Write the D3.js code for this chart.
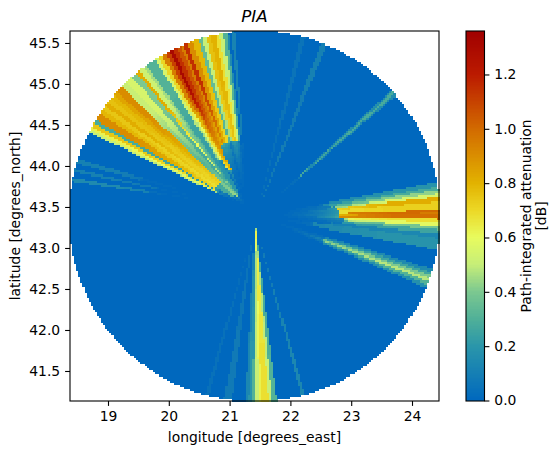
<!DOCTYPE html>
<html><head><meta charset="utf-8">
<script src="https://cdn.jsdelivr.net/npm/d3@7"></script>
<style>html,body{margin:0;padding:0;background:#fff}svg{display:block}text{font-family:"DejaVu Sans",sans-serif}</style>
</head><body><svg id="c" width="560" height="454"></svg>
<script>
const lonTicks=[19,20,21,22,23,24];
const latTicks=[41.5,42,42.5,43,43.5,44,44.5,45,45.5];
const cbTicks=[0,0.2,0.4,0.6,0.8,1.0,1.2];
const colorValues=[0,0.2,0.3,0.4,0.5,0.6,0.7,0.8,1.0,1.2,1.36];
const colorStops=["#0068be","#2a96aa","#50b098","#7cc890","#c6ee78","#e8fb5e","#ecd826","#e2b200","#d26a00","#bb1a00","#a00000"];
const radarCenter=[21.41,43.39], radarRadius=[3.035,2.25];

// azimuth sectors: bearings (deg), outer value, value at onset, onset range (fraction of radius)
const nwOrigin=[21.303,43.488];
const nwAz=[295.5,296.5,297.5,298.8,300,302.5,304,305.5,307,308.5,310,311.5,313.8,316,318.5,320.5,321.7,323.5,324.5,328,329.2,330.5,332,333.2,334.5,336,337.5,338.4,339.8,341.7,343.5,344.8,346.2,347.7,349.5,350.7,352,353,353.6,354.5,355.7];
const nwFar=[.5,.62,.75,.28,.9,.78,.74,.82,.76,.78,.84,.9,.5,.55,.4,.82,.52,.45,.3,.55,.7,.95,1.1,1.3,1.15,1.05,.95,1.15,.9,.78,.35,.5,.76,.8,.68,.5,.3,.15,0,.12];
const nwStart=[.45,.55,.65,.2,.7,.68,.68,.7,.7,.7,.72,.72,.22,.25,.2,.4,.25,.22,.18,.4,.5,.6,.65,.7,.8,.85,.8,.9,.8,.7,.3,.45,.7,.75,.65,.5,.3,.15,0,.1];
const nwOnset=[.19,.19,.19,.19,.205,.205,.205,.205,.205,.205,.205,.205,.17,.17,.17,.17,.17,.17,.17,.3,.3,.3,.23,.23,.23,.37,.37,.37,.37,.37,.37,.37,.37,.37,.37,.37,.37,.37,.37,.37];

// pale streaks that converge on the origin of the north-west fan
const nwCoreAz=[303,312,318,322,330];
const nwCoreFar=[.1,.1,.1,.1];
const nwCoreStart=[.3,.45,.35,.2];
const nwCoreOnset=[.1,.08,.08,.1];

const wAz=[278.6,279.8,281.7,282.7,284.5,286];
const wFar=[.15,0,.1,0,.1];
const wStart=[.1,0,.07,0,.07];
const wOnset=[.54,.5,.5,.5,.6];

const eOrigin=[21.467,43.39];
const eAz=[79.2,80.8,81.8,83,84,85.5,88,88.9,89.4,91,92,93.3,94.3,95.5,97,100.8];
const eFar=[.18,.28,.42,.55,.82,.72,1.0,.95,.98,.68,.58,.38,.25,.13,.19];
const eStart=[.15,.22,.3,.42,.72,.68,.92,.8,.9,.6,.45,.3,.2,.1,.13];
const eOnset=[.36,.36,.4,.42,.43,.44,.445,.445,.445,.46,.46,.46,.46,.4,.3];

const seAz=[106.9,108,109,110,111,112,113.1];
const seFar=[.15,.25,.4,.48,.3,.17];
const seStart=[.12,.2,.35,.42,.25,.14];
const seOnset=[.38,.38,.37,.37,.37,.38];

const neOrigin=[21.44,43.4];
const neAz=[47.2,47.9,48.7,49.4];
const neFar=[.16,.28,.16];
const neStart=[.14,.26,.14];
const neOnset=[.32,.31,.32];

const nAz=[14,15.5,20.6,22.4];
const nFar=[.05,0,.1];
const nStart=[.04,0,.08];
const nOnset=[.1,.1,.1];

const sOrigin=[21.418,43.293];
const sAz=[163.7,164.9,172.9,174.5,175.6,178.1,178.9,180,180.66,181.9,183,187.5,190,195,196.2];
const sFar=[.13,0,.3,.5,.68,.62,.5,.3,.2,.13,0,.08,0,.04];
const sStart=[.08,0,.25,.45,.62,.58,.45,.25,.15,.1,0,.05,0,.03];
const sOnset=[.1,.1,.05,.03,.02,.02,.03,.05,.06,.08,.1,.12,.1,.2];

const sectors=[
 [nwOrigin,nwAz,nwFar,nwStart,nwOnset],
 [nwOrigin,nwCoreAz,nwCoreFar,nwCoreStart,nwCoreOnset],
 [nwOrigin,wAz,wFar,wStart,wOnset],
 [eOrigin,eAz,eFar,eStart,eOnset],
 [eOrigin,seAz,seFar,seStart,seOnset],
 [neOrigin,neAz,neFar,neStart,neOnset],
 [neOrigin,nAz,nFar,nStart,nOnset],
 [sOrigin,sAz,sFar,sStart,sOnset]
];
const fullRange=0.72;

const svg=d3.select("#c");
const x=d3.scaleLinear().domain([18.375,24.444]).range([70,439]);
const y=d3.scaleLinear().domain([41.134,45.646]).range([401,31]);
const cbY=d3.scaleLinear().domain([0,1.36]).range([400.5,31]);
const color=d3.scaleLinear().domain(colorValues).range(colorStops).clamp(true);

function pia(lon,lat){
  let best=0;
  for(const [o,az,far,start,onset] of sectors){
    const dx=(lon-o[0])/radarRadius[0], dy=(lat-o[1])/radarRadius[1];
    const r=Math.hypot(dx,dy);
    const b=(Math.atan2(dx,dy)*180/Math.PI+360)%360;
    if(b<az[0]||b>=az[az.length-1]) continue;
    const i=d3.bisectRight(az,b)-1;
    const f=far[i], s=start[i], on=onset[i];
    let v;
    if(r<on) v=s*0.3*Math.pow(r/on,3);
    else v=s+(f-s)*Math.min(1,(r-on)/Math.max(0.01,fullRange-on));
    if(v>best) best=v;
  }
  return best;
}

const nCells=178;
const lonStep=(x.domain()[1]-x.domain()[0])/nCells, latStep=(y.domain()[1]-y.domain()[0])/nCells;
const runs=[];
d3.range(nCells-1,-1,-1).forEach(j=>{
  const lat=y.domain()[0]+(j+.5)*latStep;
  let cur=null;
  d3.range(nCells).forEach(i=>{
    const lon=x.domain()[0]+(i+.5)*lonStep;
    const d=Math.hypot((lon-radarCenter[0])/radarRadius[0],(lat-radarCenter[1])/radarRadius[1]);
    if(d>1.005){cur=null;return;}
    const v=Math.round(pia(lon,lat)*75)/75;
    if(cur&&cur.v===v){cur.i1=i+1;}
    else{cur={v,i0:i,i1:i+1,j};runs.push(cur);}
  });
});
const plot=svg.append("g").attr("shape-rendering","crispEdges");
plot.selectAll("rect").data(runs).join("rect")
 .attr("x",d=>x(x.domain()[0]+d.i0*lonStep))
 .attr("width",d=>x(x.domain()[0]+d.i1*lonStep)-x(x.domain()[0]+d.i0*lonStep)+.5)
 .attr("y",d=>y(y.domain()[0]+(d.j+1)*latStep))
 .attr("height",d=>y(y.domain()[0]+d.j*latStep)-y(y.domain()[0]+(d.j+1)*latStep)+.5)
 .attr("fill",d=>color(d.v));

svg.append("rect").attr("x",70).attr("y",31).attr("width",369).attr("height",370)
 .attr("fill","none").attr("stroke","#000").attr("stroke-width",1.1);

function styleAxis(g){
  g.select(".domain").remove();
  g.selectAll("line").attr("stroke","#000").attr("stroke-width",1.1);
  g.selectAll("text").attr("font-size",13.9).attr("fill","#000").style("font-family",'"DejaVu Sans"');
}
svg.append("g").attr("transform","translate(0,401)")
 .call(d3.axisBottom(x).tickValues(lonTicks).tickFormat(d3.format("d")).tickSize(4.9).tickPadding(4.9)).call(styleAxis);
svg.append("g").attr("transform","translate(70,0)")
 .call(d3.axisLeft(y).tickValues(latTicks).tickFormat(d3.format(".1f")).tickSize(4.9).tickPadding(4.9)).call(styleAxis);

// colour bar
const cbSteps=d3.range(0,1.36,0.005);
svg.append("g").attr("shape-rendering","crispEdges").selectAll("rect").data(cbSteps).join("rect")
 .attr("x",466).attr("width",18.5)
 .attr("y",d=>cbY(d+0.005)).attr("height",d=>cbY(d)-cbY(d+0.005)+.6)
 .attr("fill",d=>color(d));
svg.append("rect").attr("x",466).attr("y",31).attr("width",18.5).attr("height",370)
 .attr("fill","none").attr("stroke","#000").attr("stroke-width",1.1);
svg.append("g").attr("transform","translate(484.5,0)")
 .call(d3.axisRight(cbY).tickValues(cbTicks).tickFormat(d3.format(".1f")).tickSize(4.9).tickPadding(4.9)).call(styleAxis);

const label=(t,xp,yp,rot)=>svg.append("text").text(t).attr("text-anchor","middle")
 .attr("font-size",13.9).attr("fill","#000")
 .attr("transform",`translate(${xp},${yp})`+(rot?` rotate(${rot})`:""));
label("longitude [degrees_east]",254.5,442);
label("latitude [degrees_north]",20,216,-90);
label("Path-integrated attenuation",531,216,-90);
label("[dB]",546,216,-90);
svg.append("text").text("PIA").attr("x",254.5).attr("y",22).attr("text-anchor","middle")
 .attr("font-size",16.7).attr("font-style","italic").attr("fill","#000");
</script></body></html>
